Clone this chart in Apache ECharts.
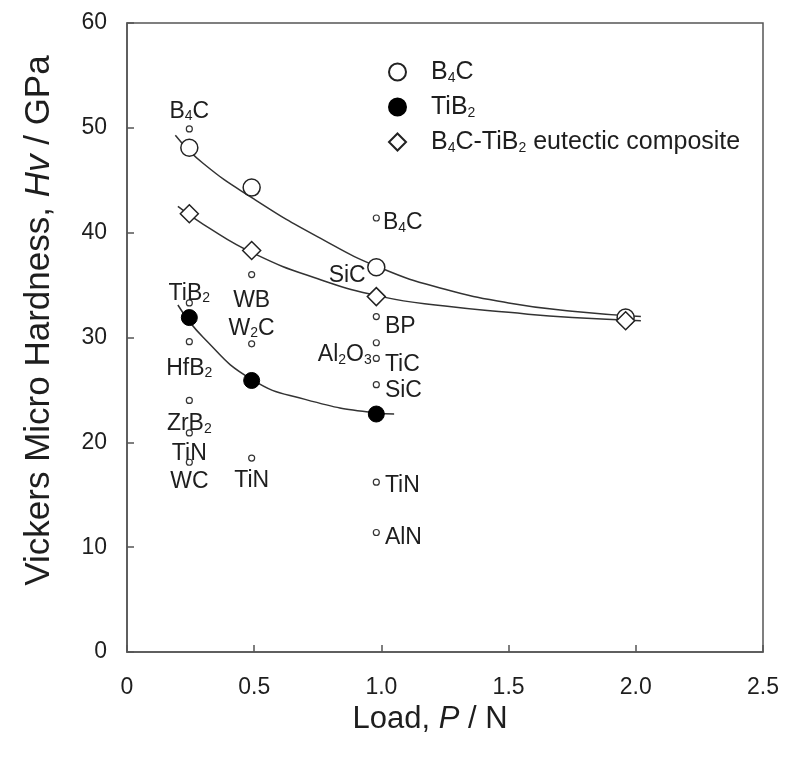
<!DOCTYPE html>
<html>
<head>
<meta charset="utf-8">
<title>Vickers micro hardness vs load</title>
<script src="https://cdn.jsdelivr.net/npm/echarts@6.0.0/dist/echarts.min.js"></script>
<style>
  html, body { margin: 0; padding: 0; background: #fff; }
  #chart { width: 787px; height: 757px; }
</style>
</head>
<body>
<div id="chart"></div>
<script>
// Measured hardness (GPa) at each indentation load (N)
const b4cLoad = [0.245, 0.49, 0.98, 1.96];
const b4cHv = [48.1, 44.3, 36.7, 31.9];
const tib2Load = [0.245, 0.49, 0.98];
const tib2Hv = [31.9, 25.9, 22.7];
const compLoad = [0.245, 0.49, 0.98, 1.96];
const compHv = [41.8, 38.3, 33.9, 31.6];

// Fitted trend curves
const b4cFitLoad = [0.19, 0.3, 0.5, 0.75, 1.0, 1.25, 1.5, 1.75, 2.02];
const b4cFitHv = [49.3, 46.6, 43.2, 39.6, 36.6, 34.6, 33.3, 32.5, 32.0];
const compFitLoad = [0.2, 0.3, 0.5, 0.75, 1.0, 1.25, 1.5, 1.75, 2.02];
const compFitHv = [42.5, 40.8, 38.0, 35.6, 33.9, 33.0, 32.4, 31.9, 31.6];
const tib2FitLoad = [0.2, 0.3, 0.49, 0.7, 0.98, 1.05];
const tib2FitHv = [33.1, 30.0, 26.0, 24.1, 22.8, 22.7];

// Literature values for other hard materials
const litLoad = [0.245, 0.245, 0.245, 0.245, 0.245, 0.245,
                 0.49, 0.49, 0.49,
                 0.98, 0.98, 0.98, 0.98, 0.98, 0.98, 0.98, 0.98];
const litHv = [49.9, 33.3, 29.6, 24.0, 20.9, 18.1,
               36.0, 29.4, 18.5,
               41.4, 36.5, 32.0, 29.5, 28.0, 25.5, 16.2, 11.4];
const litName = ['B{s|4}C', 'TiB{s|2}', 'HfB{s|2}', 'ZrB{s|2}', 'TiN', 'WC',
                 'WB', 'W{s|2}C', 'TiN',
                 'B{s|4}C', 'SiC', 'BP', 'Al{s|2}O{s|3}', 'TiC', 'SiC', 'TiN', 'AlN'];

// Axis ticks
const xTicks = [0, 0.5, 1.0, 1.5, 2.0, 2.5];
const yTicks = [0, 10, 20, 30, 40, 50, 60];

const FONT = '"Liberation Sans", Arial, Helvetica, sans-serif';
const INK = '#1e1e1e';

const richSub = {
  s: { fontSize: 14, fontFamily: FONT, color: INK, verticalAlign: 'bottom', lineHeight: 14 }
};

// label placement for each literature point: [position, dx, dy]
const litPlace = [
  ['top', 0, 1], ['top', 0, 9], ['bottom', 0, 8], ['bottom', 0, 5], ['bottom', 0, 2], ['bottom', 0, 1],
  ['bottom', 0, 7], ['top', 0, 3], ['bottom', 0, 4],
  ['right', 0, 5], ['left', -4, 6], ['right', 2, 10], ['left', 2, 12], ['right', 2, 6], ['right', 2, 6], ['right', 2, 3], ['right', 2, 5]
];

const pairs = (xs, ys) => xs.map((x, i) => [x, ys[i]]);

const litData = litLoad.map((x, i) => {
  const p = litPlace[i];
  return {
    value: [x, litHv[i]],
    label: {
      show: true,
      formatter: litName[i],
      position: p[0],
      distance: 3,
      offset: [p[1], p[2]]
    }
  };
});

const fitLine = (name, xs, ys) => ({
  name: name,
  type: 'line',
  data: pairs(xs, ys),
  smooth: 0.5,
  showSymbol: false,
  symbol: 'none',
  silent: true,
  lineStyle: { color: '#333', width: 1.5 },
  z: 1
});

const tickFmt = v => {
  if (v === 0) return '0';
  return v.toFixed(1);
};

const chart = echarts.init(document.getElementById('chart'), null, { renderer: 'canvas' });

chart.setOption({
  animation: false,
  backgroundColor: '#fff',
  grid: {
    left: 127, top: 23, width: 636, height: 629,
    show: true, borderColor: '#555', borderWidth: 1.5,
    outerBoundsMode: 'none'
  },
  legend: {
    orient: 'vertical',
    left: 383, top: 54,
    itemWidth: 17, itemHeight: 17, itemGap: 9,
    data: ['B4C', 'TiB2', 'B4C-TiB2 eutectic composite'],
    formatter: function (n) {
      if (n === 'B4C') return 'B{s|4}C';
      if (n === 'TiB2') return 'TiB{s|2}';
      return 'B{s|4}C-TiB{s|2} eutectic composite';
    },
    textStyle: {
      fontFamily: FONT, fontSize: 25, color: INK, lineHeight: 26,
      padding: [0, 0, 0, 20],
      rich: richSub
    }
  },
  xAxis: {
    type: 'value',
    min: xTicks[0], max: xTicks[xTicks.length - 1], interval: 0.5,
    name: 'Load, {i|P} / N',
    nameLocation: 'middle', nameGap: 52,
    nameTextStyle: {
      fontFamily: FONT, fontSize: 31, color: INK,
      padding: [0, 30, 0, 0],
      rich: { i: { fontFamily: FONT, fontSize: 31, fontStyle: 'italic', color: INK } }
    },
    axisLine: { show: true, lineStyle: { color: '#555', width: 1.5 } },
    axisTick: { show: true, inside: true, length: 7, lineStyle: { color: '#555', width: 1.5 } },
    axisLabel: {
      margin: 24, fontFamily: FONT, fontSize: 23, color: INK,
      formatter: tickFmt
    },
    splitLine: { show: false }
  },
  yAxis: {
    type: 'value',
    min: yTicks[0], max: yTicks[yTicks.length - 1], interval: 10,
    name: 'Vickers Micro Hardness, {i|Hv} / GPa',
    nameLocation: 'middle', nameGap: 70,
    nameTextStyle: {
      fontFamily: FONT, fontSize: 35, color: INK,
      padding: [0, 0, 0, 34],
      rich: { i: { fontFamily: FONT, fontSize: 35, fontStyle: 'italic', color: INK } }
    },
    axisLine: { show: true, lineStyle: { color: '#555', width: 1.5 } },
    axisTick: { show: true, inside: true, length: 7, lineStyle: { color: '#555', width: 1.5 } },
    axisLabel: {
      margin: 20, fontFamily: FONT, fontSize: 23, color: INK
    },
    splitLine: { show: false }
  },
  series: [
    fitLine('b4c-fit', b4cFitLoad, b4cFitHv),
    fitLine('comp-fit', compFitLoad, compFitHv),
    fitLine('tib2-fit', tib2FitLoad, tib2FitHv),
    {
      name: 'literature',
      type: 'scatter',
      data: litData,
      symbol: 'circle',
      symbolSize: 6,
      itemStyle: { color: '#fff', borderColor: '#333', borderWidth: 1.2, opacity: 1 },
      label: {
        fontFamily: FONT, fontSize: 23, color: INK, lineHeight: 24,
        rich: richSub
      },
      z: 3
    },
    {
      name: 'B4C',
      type: 'scatter',
      data: pairs(b4cLoad, b4cHv),
      symbol: 'circle',
      symbolSize: 17,
      itemStyle: { color: '#fff', borderColor: '#222', borderWidth: 1.5, opacity: 1 },
      z: 4
    },
    {
      name: 'TiB2',
      type: 'scatter',
      data: pairs(tib2Load, tib2Hv),
      symbol: 'circle',
      symbolSize: 16,
      itemStyle: { color: '#000', borderColor: '#000', borderWidth: 1, opacity: 1 },
      z: 4
    },
    {
      name: 'B4C-TiB2 eutectic composite',
      type: 'scatter',
      data: pairs(compLoad, compHv),
      symbol: 'diamond',
      symbolSize: 18,
      itemStyle: { color: '#fff', borderColor: '#222', borderWidth: 1.5, opacity: 1 },
      z: 4
    }
  ]
});
</script>
</body>
</html>
